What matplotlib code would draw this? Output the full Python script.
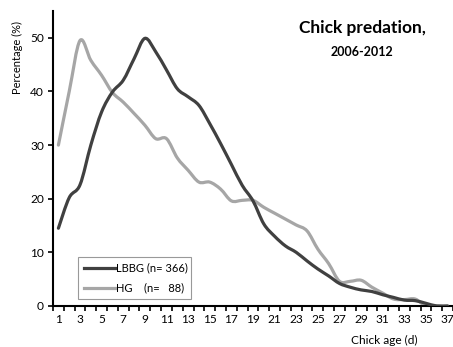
import matplotlib
matplotlib.use("Agg")
import matplotlib.pyplot as plt
from matplotlib.path import Path
from matplotlib.patches import PathPatch
from matplotlib.lines import Line2D
import numpy as np

plt.rcParams['font.family'] = ['Lato', 'DejaVu Sans']

days = list(range(1, 38))
lbbg = [14.5, 20.2, 22.6, 30.0, 36.2, 39.9, 42.1, 46.1, 49.9, 47.4,
        44.0, 40.5, 39.0, 37.4, 34.0, 30.3, 26.4, 22.5, 19.6, 15.3,
        13.0, 11.2, 10.0, 8.4, 6.9, 5.6, 4.2, 3.5, 3.0, 2.7,
        2.1, 1.6, 1.1, 1.0, 0.5, 0.0, 0.0]
hg = [30.0, 40.0, 49.5, 45.8, 43.0, 39.8, 38.0, 35.9, 33.7, 31.2,
      31.2, 27.6, 25.3, 23.1, 23.1, 21.8, 19.6, 19.7, 19.7, 18.4,
      17.3, 16.2, 15.1, 14.0, 10.6, 7.9, 4.6, 4.6, 4.8, 3.5,
      2.4, 1.3, 1.2, 1.3, 0.0, 0.0, 0.0]
labels = ["LBBG (n= 366)", "HG    (n=   88)"]
colors = ['#404040', '#a6a6a6']


def smooth_path(x, y, t=1/6):
    """Excel-like smoothed line: cubic Bezier through the data points."""
    x = np.asarray(x, float)
    y = np.asarray(y, float)
    n = len(x)
    verts = [(x[0], y[0])]
    codes = [Path.MOVETO]
    for i in range(n - 1):
        p0 = (x[i - 1], y[i - 1]) if i > 0 else (x[i], y[i])
        p1 = (x[i], y[i])
        p2 = (x[i + 1], y[i + 1])
        p3 = (x[i + 2], y[i + 2]) if i + 2 < n else (x[i + 1], y[i + 1])
        c1 = (p1[0] + (p2[0] - p0[0]) * t, p1[1] + (p2[1] - p0[1]) * t)
        c2 = (p2[0] - (p3[0] - p1[0]) * t, p2[1] - (p3[1] - p1[1]) * t)
        verts += [c1, c2, p2]
        codes += [Path.CURVE4] * 3
    return Path(verts, codes)


fig = plt.figure(figsize=(4.53, 3.47), dpi=100)
ax = fig.add_axes([53/453, 1-306/347, 400/453, 295/347])

for ys, c, z in [(hg, colors[1], 2), (lbbg, colors[0], 3)]:
    ax.add_patch(PathPatch(smooth_path(days, ys), facecolor='none', edgecolor=c,
                           lw=2.3, joinstyle='round', capstyle='round', zorder=z))

ax.set_xlim(0.54, 37.37)
ax.set_ylim(0, 55)
ax.set_yticks([0, 10, 20, 30, 40, 50])
ax.set_xticks(np.arange(0.5, 37.6, 1.0))
ax.set_xticklabels([])
ax.set_xticks(days[::2], minor=True)
ax.set_xticklabels([str(d) for d in days[::2]], minor=True)
ax.tick_params(axis='x', which='minor', length=0, labelsize=8.6, pad=5.5)
ax.tick_params(axis='x', which='major', length=3.5, width=1.2, direction='out')
ax.tick_params(axis='y', length=3.5, width=1.2, labelsize=8.6, direction='out', pad=3)
for s in ['top', 'right']:
    ax.spines[s].set_visible(False)
for s in ['left', 'bottom']:
    ax.spines[s].set_linewidth(1.5)
    ax.spines[s].set_color('black')

fig.text(17/453, 1-57/347, "Percentage (%)", rotation=90, ha='center', va='center', fontsize=8)
fig.text(384/453, 1-340/347, "Chick age (d)", ha='center', va='center', fontsize=8.6)
fig.text(362/453, 1-28/347, "Chick predation,", ha='center', va='center', fontsize=12.5, fontweight='bold')
fig.text(362/453, 1-52/347, "2006-2012", ha='center', va='center', fontsize=9, fontweight='bold')

handles = [Line2D([], [], color=colors[0], lw=2.3), Line2D([], [], color=colors[1], lw=2.3)]
leg = ax.legend(handles, labels, loc='lower left',
                bbox_to_anchor=((78-53)/400, (306-299)/295, (191-78)/400, (299-256)/295),
                mode='expand', borderaxespad=0, fontsize=8, frameon=True, fancybox=False,
                edgecolor='#808080', handlelength=2.8, handletextpad=0.15, borderpad=0.5,
                labelspacing=0.8)
leg.get_frame().set_linewidth(0.8)

fig.savefig("out.png", dpi=100)
